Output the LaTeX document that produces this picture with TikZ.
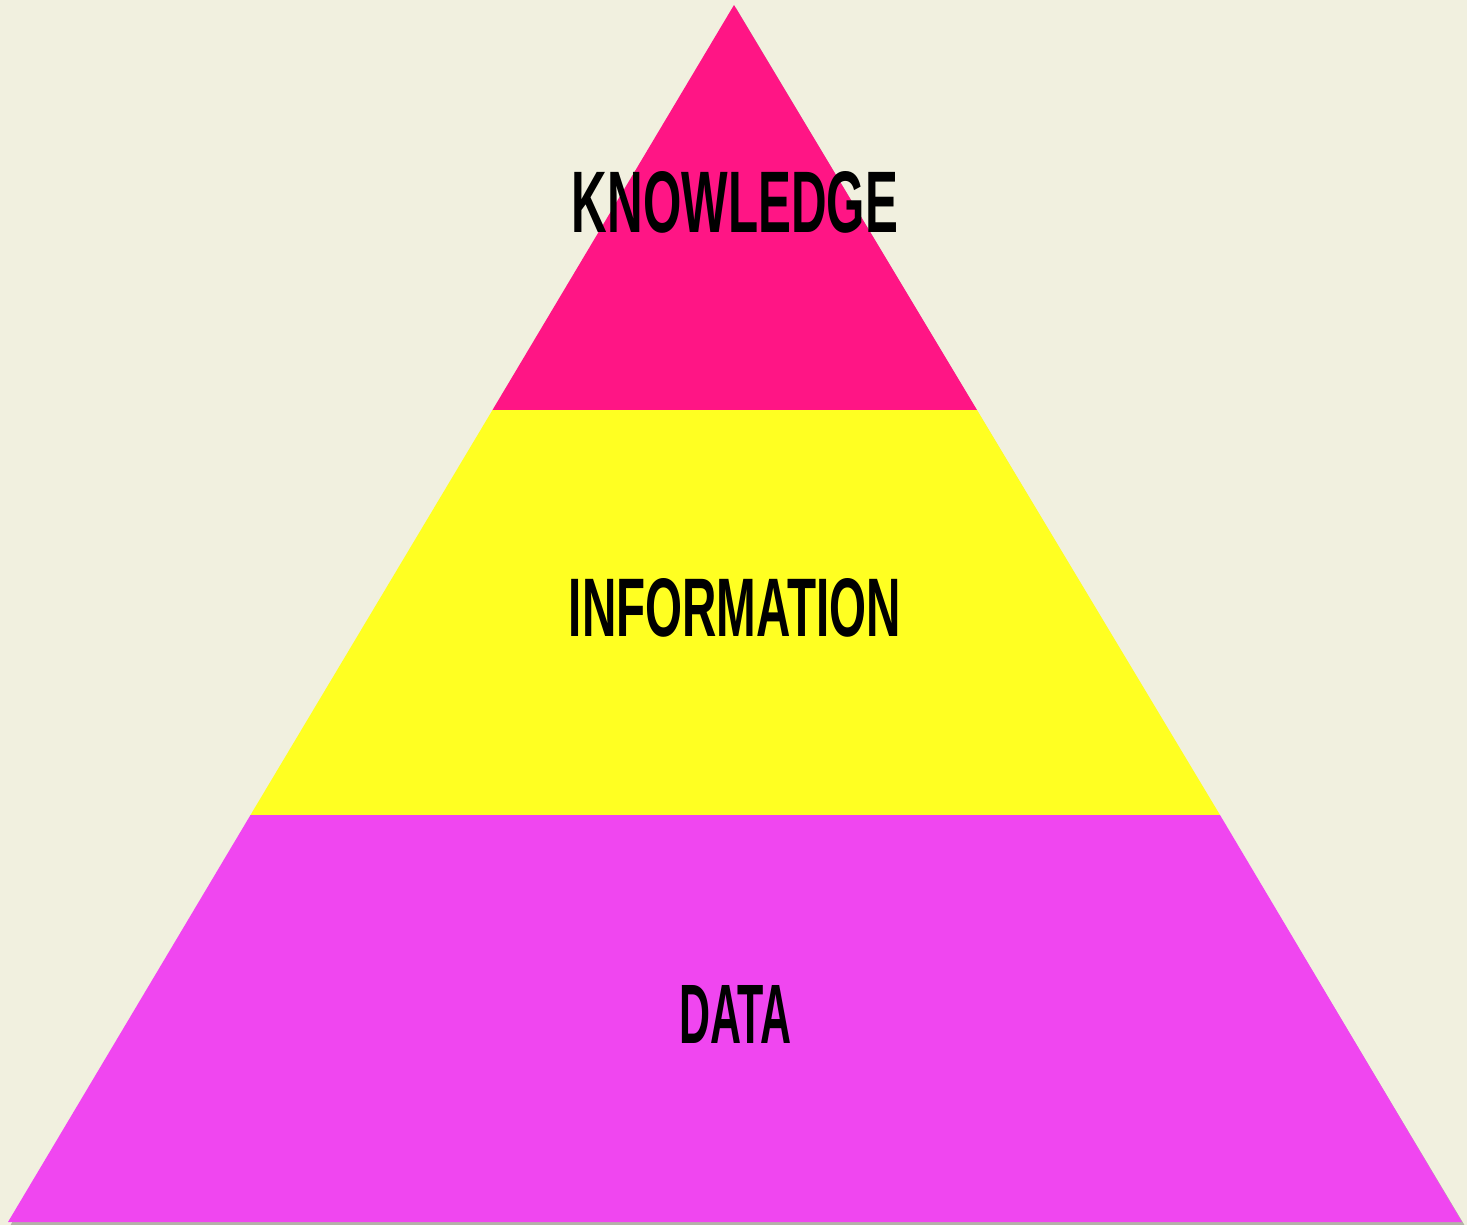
\documentclass[tikz,border=0pt]{standalone}
\usepackage{fontspec}
\setmainfont{Liberation Sans}
\usepackage{graphicx}
\definecolor{bgcream}{HTML}{F1F0DF}
\definecolor{kpink}{HTML}{FF1585}
\definecolor{iyellow}{HTML}{FFFF22}
\definecolor{dmagenta}{HTML}{F046F0}
\newcommand{\lbl}[3]{\resizebox{#1pt}{#2pt}{\bfseries #3}}
\tikzset{
  layer/.style={draw=none},
  lbltext/.style={inner sep=0pt, anchor=center, text=black}
}
\begin{document}
\begin{tikzpicture}[x=1pt,y=-1pt]
\useasboundingbox (0,0) rectangle (1467,1225);
\fill[bgcream] (0,0) rectangle (1467,1225);
% shadow of pyramid
\fill[black,opacity=0.25] (736,8) -- (10,1226) -- (1465,1226) -- cycle;
% layers
\coordinate (apex) at (734,5);
\coordinate (kl) at (492.5,410);
\coordinate (kr) at (977,410);
\coordinate (il) at (250.5,815);
\coordinate (ir) at (1220,815);
\coordinate (bl) at (8,1222);
\coordinate (br) at (1462,1222);
\fill[layer,kpink] (apex) -- (kr) -- (kl) -- cycle;
\fill[layer,iyellow] (kl) -- (kr) -- (ir) -- (il) -- cycle;
\fill[layer,dmagenta] (il) -- (ir) -- (br) -- (bl) -- cycle;
% labels
\node[lbltext] (k) at (735,202) {\lbl{326}{61}{KNOWLEDGE}};
\node[lbltext] (i) at (735,608) {\lbl{332}{58}{INFORMATION}};
\node[lbltext] (d) at (735.5,1014) {\lbl{113}{58}{DATA}};
\end{tikzpicture}
\end{document}
